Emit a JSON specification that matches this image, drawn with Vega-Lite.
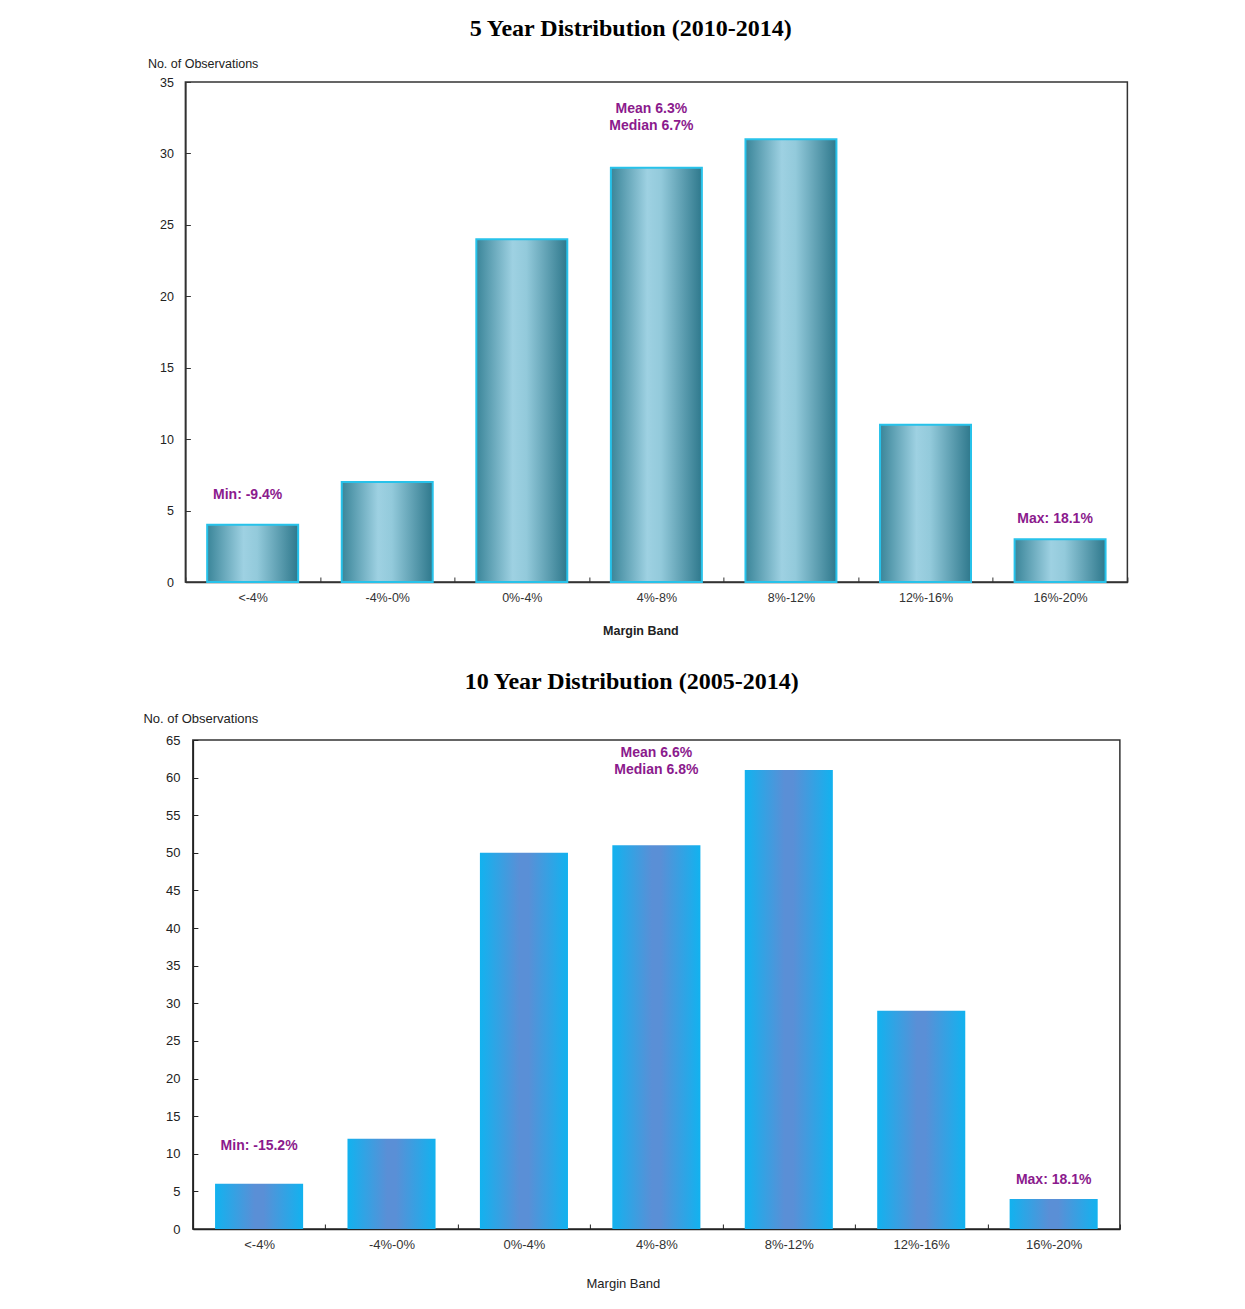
{
  "$schema": "https://vega.github.io/schema/vega-lite/v6.json",
  "background": "white",
  "padding": {"left": 142, "top": 16, "right": 0, "bottom": 0},
  "spacing": 31,
  "center": true,
  "datasets": {
    "five": [
      {"band": "<-4%", "value": 4},
      {"band": "-4%-0%", "value": 7},
      {"band": "0%-4%", "value": 24},
      {"band": "4%-8%", "value": 29},
      {"band": "8%-12%", "value": 31},
      {"band": "12%-16%", "value": 11},
      {"band": "16%-20%", "value": 3}
    ],
    "five_notes": [
      {"band": "<-4%", "value": 6.1, "label": "Min: -9.4%"},
      {"band": "4%-8%", "value": 33.1, "label": "Mean 6.3%"},
      {"band": "4%-8%", "value": 31.9, "label": "Median 6.7%"},
      {"band": "16%-20%", "value": 4.4, "label": "Max: 18.1%"}
    ],
    "ten": [
      {"band": "<-4%", "value": 6},
      {"band": "-4%-0%", "value": 12},
      {"band": "0%-4%", "value": 50},
      {"band": "4%-8%", "value": 51},
      {"band": "8%-12%", "value": 61},
      {"band": "12%-16%", "value": 29},
      {"band": "16%-20%", "value": 4}
    ],
    "ten_notes": [
      {"band": "<-4%", "value": 11.0, "label": "Min: -15.2%"},
      {"band": "4%-8%", "value": 63.3, "label": "Mean 6.6%"},
      {"band": "4%-8%", "value": 61.0, "label": "Median 6.8%"},
      {"band": "16%-20%", "value": 6.5, "label": "Max: 18.1%"}
    ]
  },
  "vconcat": [
    {
      "title": {"text": "5 Year Distribution (2010-2014)", "frame": "bounds", "anchor": "middle", "dx": -7, "font": "Liberation Serif", "fontSize": 24, "fontWeight": "bold", "color": "black", "offset": 16},
      "width": 942,
      "height": 500,
      "encoding": {
        "x": {
          "field": "band", "type": "nominal",
          "scale": {"domain": ["<-4%", "-4%-0%", "0%-4%", "4%-8%", "8%-12%", "12%-16%", "16%-20%"], "paddingInner": 0, "paddingOuter": 0},
          "axis": {"title": "Margin Band", "titleFontWeight": "bold", "titleFont": "Liberation Sans", "titleFontSize": 12.5, "titleColor": "#222", "titleX": 455, "titleY": 48, "titleBaseline": "middle", "titleAlign": "center",
            "tickBand": "extent", "tickSize": -5, "labelPadding": 20, "labelBaseline": "middle", "labelAngle": 0, "labelOverlap": false,
            "labelFont": "Liberation Sans", "labelFontSize": 12.5, "labelColor": "#333", "domainColor": "#333", "tickColor": "#333", "domainWidth": 1.5}
        },
        "y": {
          "field": "value", "type": "quantitative",
          "scale": {"domain": [0, 35], "nice": false},
          "axis": {"title": "No. of Observations", "titleAngle": 0, "titleAlign": "left", "titleBaseline": "middle", "titleX": -38, "titleY": -19,
            "titleFont": "Liberation Sans", "titleFontSize": 12.5, "titleFontWeight": "normal", "titleColor": "#222",
            "values": [0, 5, 10, 15, 20, 25, 30, 35], "grid": false, "tickSize": -5, "labelPadding": 17, "labelOverlap": false,
            "labelFont": "Liberation Sans", "labelFontSize": 12.5, "labelColor": "#222", "domainColor": "#333", "tickColor": "#333", "domainWidth": 1.5}
        }
      },
      "layer": [
        {
          "data": {"name": "five"},
          "mark": {
            "type": "bar",
            "width": {"band": 0.676},
            "stroke": "#27c2ea",
            "strokeWidth": 2,
            "fill": {"gradient": "linear", "x1": 0, "x2": 1, "y1": 0, "y2": 0,
              "stops": [
                {"offset": 0, "color": "#3a8599"},
                {"offset": 0.4, "color": "#9ed1e2"},
                {"offset": 0.55, "color": "#93cadb"},
                {"offset": 1, "color": "#2e788c"}
              ]}
          }
        },
        {
          "data": {"name": "five_notes"},
          "mark": {"type": "text", "font": "Liberation Sans", "fontSize": 14, "fontWeight": "bold", "color": "#8b1a8d", "baseline": "middle", "dx": -5},
          "encoding": {"text": {"field": "label"}}
        }
      ]
    },
    {
      "title": {"text": "10 Year Distribution (2005-2014)", "frame": "bounds", "anchor": "middle", "font": "Liberation Serif", "fontSize": 24, "fontWeight": "bold", "color": "black", "offset": 18},
      "width": 927,
      "height": 489,
      "encoding": {
        "x": {
          "field": "band", "type": "nominal",
          "scale": {"domain": ["<-4%", "-4%-0%", "0%-4%", "4%-8%", "8%-12%", "12%-16%", "16%-20%"], "paddingInner": 0, "paddingOuter": 0},
          "axis": {"title": "Margin Band", "titleFontWeight": "normal", "titleFont": "Liberation Sans", "titleFontSize": 13, "titleColor": "#222", "titleX": 430, "titleY": 54, "titleBaseline": "middle", "titleAlign": "center",
            "tickBand": "extent", "tickSize": -5, "labelPadding": 20, "labelBaseline": "middle", "labelAngle": 0, "labelOverlap": false,
            "labelFont": "Liberation Sans", "labelFontSize": 13, "labelColor": "#333", "domainColor": "#222", "tickColor": "#222", "domainWidth": 1.5}
        },
        "y": {
          "field": "value", "type": "quantitative",
          "scale": {"domain": [0, 65], "nice": false},
          "axis": {"title": "No. of Observations", "titleAngle": 0, "titleAlign": "left", "titleBaseline": "middle", "titleX": -50, "titleY": -22,
            "titleFont": "Liberation Sans", "titleFontSize": 13, "titleFontWeight": "normal", "titleColor": "#222",
            "values": [0, 5, 10, 15, 20, 25, 30, 35, 40, 45, 50, 55, 60, 65], "grid": false, "tickSize": -5, "labelPadding": 18, "labelOverlap": false,
            "labelFont": "Liberation Sans", "labelFontSize": 13, "labelColor": "#222", "domainColor": "#222", "tickColor": "#222", "domainWidth": 1.5}
        }
      },
      "layer": [
        {
          "data": {"name": "ten"},
          "mark": {
            "type": "bar",
            "width": {"band": 0.665},
            "fill": {"gradient": "linear", "x1": 0, "x2": 1, "y1": 0, "y2": 0,
              "stops": [
                {"offset": 0, "color": "#12b2ef"},
                {"offset": 0.45, "color": "#5a8fd6"},
                {"offset": 0.55, "color": "#5a8fd6"},
                {"offset": 1, "color": "#12b2ef"}
              ]}
          }
        },
        {
          "data": {"name": "ten_notes"},
          "mark": {"type": "text", "font": "Liberation Sans", "fontSize": 14, "fontWeight": "bold", "color": "#8b1a8d", "baseline": "middle"},
          "encoding": {"text": {"field": "label"}}
        }
      ]
    }
  ],
  "config": {
    "view": {"stroke": "#333", "strokeWidth": 1.5},
    "axis": {"grid": false}
  }
}
